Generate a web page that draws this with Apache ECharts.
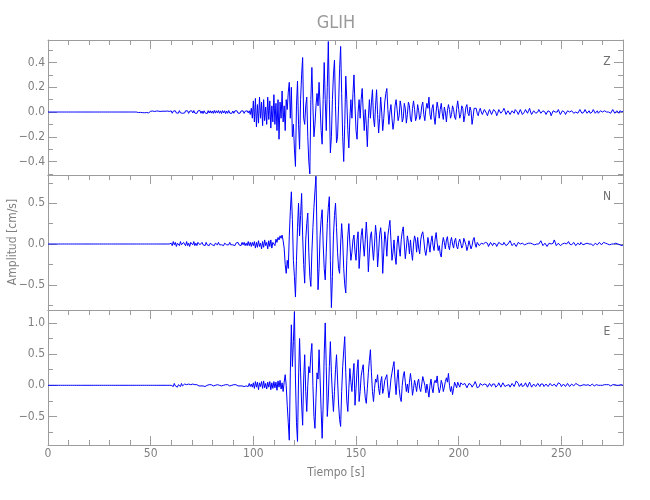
<!DOCTYPE html>
<html><head><meta charset="utf-8">
<script src="https://cdn.jsdelivr.net/npm/echarts@6/dist/echarts.min.js"></script>
<style>html,body{margin:0;padding:0;background:#fff}#c{width:650px;height:500px}</style>
</head><body><div id="c"></div>
<script>
const stationName = 'GLIH';
const componentNames = ['Z', 'N', 'E'];
const xTitle = 'Tiempo [s]';
const yTitle = 'Amplitud [cm/s]';
const timeStart = 0, timeStep = 0.5, xMax = 280;

// one line = 10 s (20 samples)
const zValues = [
0,0,0,0,0,0,0,0,0,0,0,0,0,0,0,0,0,0,0,0,
0,0,0,0,0,0,0,0,0,0,0,0,0,0,0,0,0,0,0,0,
0,0,0,0,0,0,0,0,0,0,0,0,0,0,0,0,0,0,0,0,
0,0,0,0,0,0,0,0,0,0,0,0,0,0,0,0,0,0,0,0,
0,0,0,0,0,0,0,0.003,-0.004,0.005,-0.003,0.006,-0.005,0.004,-0.006,0.007,-0.004,0.005,-0.007,0.004,
0.006,-0.005,0.008,-0.006,0.004,-0.007,0.009,-0.005,0.006,-0.008,0.005,-0.004,0.007,-0.009,0.006,-0.005,0.008,-0.006,0.005,-0.007,
0.009,-0.01,0.007,-0.006,0.01,-0.008,0.006,-0.009,0.011,-0.007,0.008,-0.01,0.006,-0.008,0.01,-0.006,0.009,-0.011,0.007,-0.008,
0.01,-0.008,0.012,-0.009,0.007,-0.011,0.009,-0.007,0.012,-0.01,0.008,-0.012,0.01,-0.007,0.009,-0.013,0.011,-0.008,0.01,-0.009,
0.008,-0.011,0.013,-0.009,0.01,-0.007,0.012,-0.01,0.009,-0.012,0.011,-0.008,0.01,-0.013,0.008,-0.01,0.012,-0.009,0.007,-0.011,
0.008,-0.01,0.009,-0.007,0.01,-0.009,0.007,-0.01,0.008,-0.006,0.009,-0.011,0.006,-0.008,0.01,-0.007,0.01,-0.02,0.03,-0.05,
0.09,-0.08,0.11,-0.12,0.06,-0.09,0.12,-0.05,0.08,-0.11,0.10,-0.07,0.04,-0.10,0.12,-0.06,0.09,-0.13,0.05,-0.08,
0.14,-0.10,0.07,-0.15,0.10,-0.22,0.08,-0.05,0.17,-0.08,0.05,-0.15,0.10,0.02,0.16,0.24,-0.05,0.20,-0.20,-0.10,
-0.30,-0.44,0.05,0.25,-0.10,-0.30,0.10,0.30,0.44,-0.05,-0.10,0.05,0.12,-0.20,-0.40,-0.50,0.10,0.36,0.05,-0.20,
-0.10,0.05,0.15,0.05,0.24,0.05,-0.15,-0.26,0.10,0.40,0.10,-0.15,0.20,0.57,0.10,-0.33,-0.20,0.10,0.30,0.42,
0.05,-0.25,-0.20,0.05,0.35,0.53,0.15,-0.20,-0.40,-0.10,0.29,0.10,-0.15,-0.29,-0.05,0.10,-0.05,0.15,0.30,0.05,
-0.15,-0.22,0.00,0.10,-0.05,0.10,0.19,0.00,-0.15,0.02,-0.10,-0.28,-0.05,0.10,-0.05,0.08,0.18,-0.05,-0.12,0.05,
0.18,-0.02,-0.17,-0.05,0.12,0.00,-0.15,-0.05,0.08,0.15,0.19,0.02,-0.10,0.00,0.06,-0.05,-0.14,-0.08,0.05,0.10,
0.02,-0.07,-0.03,0.09,0.04,-0.08,-0.05,0.07,0.03,-0.09,-0.02,0.08,0.05,-0.06,-0.08,0.03,0.09,0.02,-0.07,-0.04,
0.06,0.01,-0.06,-0.03,0.05,0.08,-0.02,-0.07,0.02,0.07,0.03,0.12,-0.02,-0.06,0.03,0.06,-0.04,-0.10,0.00,0.08,
0.03,-0.05,0.02,0.07,-0.01,-0.06,0.04,0.00,-0.08,0.01,0.06,0.02,-0.05,-0.02,0.05,0.02,-0.04,-0.06,0.03,0.09,
0.02,-0.05,-0.02,0.05,0.03,-0.08,-0.03,0.04,0.06,-0.01,-0.03,0.04,0.01,-0.10,-0.04,0.03,0.02,0.03,-0.01,-0.03,
0.01,0.03,0.00,-0.02,-0.01,0.02,0.03,-0.01,-0.03,0.00,0.02,0.01,-0.02,-0.02,0.02,0.03,0.00,-0.03,-0.01,0.02,
0.02,-0.01,-0.02,0.01,0.03,0.01,-0.02,-0.01,0.01,0.00,-0.02,-0.01,0.01,0.00,-0.01,0.02,0.03,0.00,-0.02,0.00,
0.02,0.01,-0.02,-0.03,0.00,0.02,0.01,-0.01,0.01,0.03,0.00,-0.02,-0.01,0.01,0.02,-0.01,-0.02,0.00,0.02,0.01,
-0.01,-0.02,0.01,0.02,0.00,-0.02,-0.01,0.01,0.02,0.00,-0.03,-0.01,0.01,0.02,0.00,-0.01,0.00,0.02,0.01,-0.02,
-0.01,0.01,0.02,0.00,-0.02,-0.01,0.01,0.02,0.00,-0.01,0.01,0.02,-0.01,-0.02,0.00,0.01,-0.01,0.00,0.02,0.01,
-0.01,-0.02,0.00,0.02,0.01,-0.01,0.00,0.01,-0.01,-0.02,0.00,0.02,0.01,-0.01,0.00,0.01,-0.01,-0.01,0.01,0.02,
0.00,-0.01,0.01,0.02,0.00,-0.01,0.00,0.01,-0.01,0.00,0.02,0.01,-0.01,0.00,0.01,0.00,-0.01,0.01,0.02,0.00,
0.01];

const nValues = [
0,0,0,0,0,0,0,0,0,0,0,0,0,0,0,0,0,0,0,0,
0,0,0,0,0,0,0,0,0,0,0,0,0,0,0,0,0,0,0,0,
0,0,0,0,0,0,0,0,0,0,0,0,0,0,0,0,0,0,0,0,
0,0,0,0,0,0,0,0,0,0,0,0,0,0,0,0,0,0,0,0,
0,0,0,0,0,0,0,0,0,0,0,0,0,0,0,0,0,0,0,0,
0,0,0,0,0,0,0,0,0,0,0,0,0,0,0,0,0,0,0,0,
0.01,-0.02,0.03,-0.01,0.02,-0.03,0.01,0.02,-0.02,0.03,-0.01,-0.03,0.02,0.01,-0.02,0.03,-0.02,0.01,-0.03,0.02,
0.02,-0.01,0.03,-0.02,0.01,-0.02,0.02,0.03,-0.01,-0.02,0.02,-0.01,0.01,-0.02,0.02,-0.01,0.01,-0.02,0.01,0.02,
-0.01,0.01,-0.02,0.01,0.00,-0.01,0.02,-0.01,0.01,-0.01,0.01,-0.02,0.01,0.00,-0.01,0.01,-0.01,0.02,-0.01,0.01,
-0.01,0.01,-0.02,0.01,-0.01,0.02,-0.01,0.01,-0.02,0.02,-0.01,0.02,-0.02,0.01,-0.02,0.03,-0.02,0.02,-0.03,0.02,
-0.02,0.03,-0.05,0.02,-0.04,0.04,-0.03,0.01,-0.06,0.03,-0.04,0.05,-0.02,0.02,-0.06,0.04,-0.03,0.05,-0.05,0.02,
0.03,-0.02,0.06,0.02,0.08,0.05,0.10,0.07,0.11,0.04,-0.05,-0.25,-0.36,-0.20,-0.30,0.10,0.40,0.64,0.30,-0.20,
-0.40,-0.65,-0.20,0.20,0.50,0.10,0.35,0.62,0.10,-0.25,-0.48,0.05,0.25,0.38,-0.10,-0.40,-0.52,-0.10,0.20,0.45,
0.65,0.83,0.10,-0.56,-0.30,0.10,0.30,0.42,0.00,-0.30,-0.44,-0.10,0.25,0.45,0.58,-0.20,-0.78,-0.40,0.10,0.35,
0.50,0.20,-0.10,-0.30,-0.36,0.00,0.25,0.05,-0.30,-0.50,-0.60,-0.20,0.10,0.25,0.00,-0.20,-0.10,0.05,0.11,-0.10,
-0.20,0.05,0.15,-0.30,-0.10,0.10,0.19,0.00,-0.15,0.05,0.27,0.05,-0.34,-0.10,0.10,0.15,-0.05,-0.20,0.00,0.23,
0.10,-0.28,-0.10,0.12,0.20,0.05,-0.36,-0.10,0.15,0.05,-0.15,0.10,0.20,0.29,0.05,-0.20,-0.10,0.05,-0.15,-0.25,
0.00,0.10,-0.05,-0.15,0.05,0.15,0.21,0.00,-0.18,-0.05,0.10,0.02,-0.12,0.05,-0.10,-0.20,0.00,0.10,0.05,-0.10,
0.08,-0.05,-0.12,0.05,0.12,0.15,0.05,-0.08,-0.14,-0.05,0.08,0.00,-0.10,0.03,0.10,-0.02,-0.08,0.06,0.14,0.02,
-0.08,-0.02,-0.12,-0.16,0.00,0.08,0.02,-0.06,0.05,0.09,-0.02,-0.07,0.03,0.08,0.00,-0.05,0.04,0.07,-0.03,-0.06,
0.02,0.06,0.01,-0.05,-0.02,0.07,0.09,-0.01,-0.08,-0.03,0.04,0.02,-0.06,-0.02,0.05,0.08,0.00,-0.04,0.02,0.03,
-0.02,-0.04,0.01,0.03,0.00,-0.02,0.02,0.04,0.01,-0.03,-0.01,0.02,0.00,-0.02,0.01,0.03,0.00,-0.03,-0.01,0.02,
0.03,0.00,-0.02,-0.01,0.02,0.01,-0.02,-0.03,0.00,0.02,0.04,0.01,-0.02,0.00,0.01,-0.01,-0.03,-0.01,0.02,0.03,
0.00,-0.02,0.01,0.02,-0.01,-0.03,0.00,0.02,0.01,-0.01,0.01,0.03,0.00,-0.02,-0.01,0.01,0.00,-0.02,0.00,0.02,
0.04,0.01,-0.02,-0.01,0.01,0.00,-0.03,-0.02,0.01,0.02,0.00,-0.01,0.01,0.05,0.02,-0.02,-0.01,0.01,0.00,-0.02,
-0.03,0.00,0.02,0.01,-0.01,0.00,0.02,0.03,0.00,-0.02,-0.01,0.01,0.02,0.00,-0.02,-0.01,0.01,0.00,-0.01,0.02,
0.01,-0.01,-0.02,0.00,0.02,0.01,-0.01,0.00,0.02,0.00,-0.01,-0.02,0.00,0.01,0.00,-0.01,0.01,0.02,0.00,-0.01,
0.00,0.02,0.03,0.01,-0.01,0.00,0.01,-0.01,-0.02,0.00,0.01,0.00,-0.01,0.01,0.02,0.00,-0.02,-0.01,-0.03,-0.02,
-0.01];

const eValues = [
0,0,0,0,0,0,0,0,0,0,0,0,0,0,0,0,0,0,0,0,
0,0,0,0,0,0,0,0,0,0,0,0,0,0,0,0,0,0,0,0,
0,0,0,0,0,0,0,0,0,0,0,0,0,0,0,0,0,0,0,0,
0,0,0,0,0,0,0,0,0,0,0,0,0,0,0,0,0,0,0,0,
0,0,0,0,0,0,0,0,0,0,0,0,0,0,0,0,0,0,0,0,
0,0,0,0,0,0,0,0,0,0,0,0,0,0,0,0,0,0,0,0,
0.00,0.01,-0.02,0.03,-0.01,0.02,-0.03,0.01,0.02,-0.02,0.03,-0.01,-0.02,0.02,-0.01,0.01,-0.02,0.02,-0.01,0.01,
-0.01,0.02,-0.01,0.01,-0.02,0.01,0.00,-0.01,0.02,-0.01,0.01,-0.01,0.01,-0.02,0.01,0.00,-0.01,0.01,-0.01,0.01,
0.00,-0.01,0.01,0.00,-0.01,0.01,-0.01,0.00,0.01,-0.01,0.01,0.00,-0.01,0.01,-0.01,0.01,0.00,-0.01,0.01,0.00,
-0.01,0.01,-0.01,0.01,0.00,-0.01,0.01,-0.01,0.02,-0.01,0.01,-0.02,0.01,-0.01,0.02,-0.02,0.03,-0.02,0.02,-0.03,
0.04,-0.05,0.06,-0.03,0.05,-0.07,0.04,-0.02,0.06,-0.05,0.07,-0.04,0.03,-0.06,0.05,-0.03,0.06,-0.07,0.04,-0.05,
0.06,-0.04,0.05,-0.08,0.07,-0.03,0.08,-0.06,0.04,-0.10,0.05,0.17,0.00,-0.32,-0.60,-0.88,0.20,0.97,0.30,0.70,
1.18,0.10,-0.60,-0.90,0.10,0.75,0.20,-0.30,-0.64,0.10,0.49,-0.10,-0.42,0.00,0.30,0.20,0.50,0.67,0.00,-0.50,
-0.69,-0.20,0.20,0.10,0.57,0.10,-0.40,-0.85,-0.30,0.50,1.00,0.30,-0.50,-0.20,0.30,0.70,0.20,-0.15,-0.42,-0.10,
0.25,0.49,0.10,-0.30,-0.55,-0.66,-0.10,0.30,0.55,0.78,0.20,-0.25,-0.42,-0.05,0.27,0.05,-0.10,0.15,0.35,-0.32,
-0.05,0.25,0.41,-0.26,-0.10,0.15,0.25,0.33,0.00,-0.20,-0.29,-0.05,0.20,0.40,0.57,0.20,-0.10,-0.26,-0.05,0.10,
0.05,0.17,-0.05,-0.15,0.05,0.14,-0.13,-0.05,0.08,0.05,0.17,-0.05,-0.20,-0.08,0.10,0.20,0.30,0.38,0.05,-0.15,
0.10,0.25,-0.05,-0.20,-0.26,0.00,0.15,0.22,0.05,-0.10,0.02,-0.12,0.05,0.19,0.05,-0.16,-0.05,0.08,0.00,-0.10,
0.05,0.10,-0.05,-0.10,0.02,0.14,0.17,0.00,-0.12,0.02,-0.08,-0.19,0.00,0.10,-0.05,-0.12,0.03,0.08,0.04,0.15,
-0.02,-0.12,-0.05,0.08,0.02,-0.10,-0.03,0.06,0.12,0.05,0.19,0.00,-0.10,-0.02,-0.15,-0.05,0.05,0.02,-0.04,0.05,
0.03,-0.03,0.04,0.06,0.01,-0.02,0.03,0.00,-0.04,-0.02,0.03,0.05,0.01,-0.03,-0.01,0.02,0.06,0.02,-0.04,-0.06,
-0.02,0.03,0.05,0.00,-0.02,0.02,0.04,0.01,-0.03,0.00,0.03,0.01,-0.02,0.02,0.05,0.02,-0.03,-0.05,0.00,0.04,
0.02,-0.03,0.00,0.04,0.02,-0.02,-0.04,0.00,0.03,0.01,-0.03,0.00,0.03,0.01,-0.02,0.02,0.07,0.10,0.03,-0.02,
0.00,0.03,-0.02,-0.05,0.00,0.04,0.02,-0.03,0.00,0.05,0.01,-0.03,-0.01,0.02,0.00,-0.02,0.01,0.03,0.00,-0.02,
0.02,0.05,0.02,-0.02,-0.01,0.02,0.00,-0.02,0.01,0.03,0.01,-0.01,0.00,0.02,-0.01,-0.02,0.01,0.04,0.06,0.02,
-0.02,0.00,0.02,-0.01,-0.02,0.01,0.03,0.00,-0.02,0.00,0.02,0.01,-0.01,0.01,0.03,0.04,0.01,-0.02,-0.01,0.01,
0.00,-0.02,0.01,0.02,0.00,-0.01,0.01,0.00,-0.01,0.01,0.02,0.01,-0.01,0.00,0.01,0.02,0.00,-0.01,0.00,0.01,
0.00,-0.01,0.01,0.00,0.01,0.02,0.01,0.00,-0.01,0.00,0.01,0.00,0.01,0.02,0.00,0.01,0.00,-0.01,0.01,0.02,
0.00];

const yRanges = [[-0.509, 0.582], [-0.809, 0.846], [-0.957, 1.207]];
const xMajorTicks = [0, 50, 100, 150, 200, 250];
const xMinorTicks = [10,20,30,40,60,70,80,90,110,120,130,140,160,170,180,190,210,220,230,240,260,270];
const yMajorTicks = [[-0.4,-0.2,0,0.2,0.4], [-0.5,0,0.5], [-0.5,0,0.5,1.0]];
const yMinorTicks = [[-0.5,-0.3,-0.1,0.1,0.3,0.5], [-0.75,-0.25,0.25,0.75], [-0.75,-0.25,0.25,0.75]];

const FONT = "'Liberation Sans Narrow','DejaVu Sans Condensed','Roboto Condensed','Liberation Sans',sans-serif";
const AXIS_COLOR = '#9c9c9c', TEXT_COLOR = '#808080', LINE_COLOR = '#0000ff';
const gridTops = [40, 175, 310], gridH = 135, gridLeft = 48, gridRight = 27;
const traces = [zValues, nValues, eValues];

const fmtY = v => (Math.abs(v) < 1e-9 ? '0.0' : v.toFixed(1).replace('-', '\u2212'));

function axis(dim, g, position, o) {
  const a = {
    type: 'value', gridIndex: g, position: position,
    min: dim === 'x' ? 0 : yRanges[g][0], max: dim === 'x' ? xMax : yRanges[g][1],
    splitLine: { show: false }, minorTick: { show: false }, minorSplitLine: { show: false },
    axisPointer: { show: false }, silent: true,
    axisLine: { show: !!o.line, onZero: false, lineStyle: { color: AXIS_COLOR, width: 1 } },
    axisTick: { show: !!o.ticks, inside: true, length: o.len || 9, customValues: o.ticks || [],
                lineStyle: { color: AXIS_COLOR, width: 1 } },
    axisLabel: { show: !!o.labels }
  };
  if (o.labels) {
    a.axisLabel = { show: true, customValues: o.labels, color: TEXT_COLOR, fontFamily: FONT,
      fontSize: 12, margin: 3, showMinLabel: true, showMaxLabel: true,
      formatter: dim === 'x' ? (v => String(v)) : fmtY };
  }
  return a;
}

const grids = [], xAxes = [], yAxes = [], seriesList = [], graphics = [];
for (let g = 0; g < 3; g++) {
  grids.push({ left: gridLeft, right: gridRight, top: gridTops[g], height: gridH, containLabel: false, outerBoundsMode: 'none' });
  const last = g === 2;
  const xi = xAxes.length, yi = yAxes.length;
  xAxes.push(axis('x', g, 'bottom', { line: true, ticks: last ? xMajorTicks : null, labels: last ? xMajorTicks : null, len: 9 }));
  xAxes.push(axis('x', g, 'bottom', { ticks: last ? xMinorTicks : null, len: 5 }));
  xAxes.push(axis('x', g, 'top', { line: true, ticks: xMajorTicks, len: 9 }));
  xAxes.push(axis('x', g, 'top', { ticks: xMinorTicks, len: 5 }));
  yAxes.push(axis('y', g, 'left', { line: true, ticks: yMajorTicks[g], labels: yMajorTicks[g], len: 9 }));
  yAxes.push(axis('y', g, 'left', { ticks: yMinorTicks[g], len: 5 }));
  yAxes.push(axis('y', g, 'right', { line: true, ticks: yMajorTicks[g], len: 9 }));
  yAxes.push(axis('y', g, 'right', { ticks: yMinorTicks[g], len: 5 }));
  seriesList.push({
    type: 'line', xAxisIndex: xi, yAxisIndex: yi,
    data: traces[g].map((v, i) => [timeStart + i * timeStep, v]),
    showSymbol: false, symbol: 'none', smooth: false, clip: true,
    lineStyle: { color: LINE_COLOR, width: 1 }, itemStyle: { color: LINE_COLOR },
    animation: false, silent: true
  });
  graphics.push({ type: 'text', x: 607, y: gridTops[g] + 22, silent: true,
    style: { text: componentNames[g], fill: '#707070', fontFamily: FONT, fontSize: 12, align: 'center', verticalAlign: 'middle' } });
}
graphics.push({ type: 'text', x: 336, y: 23, silent: true,
  style: { text: stationName, fill: '#9a9a9a', fontFamily: FONT, fontSize: 18, align: 'center', verticalAlign: 'middle' } });
graphics.push({ type: 'text', x: 336, y: 473, silent: true,
  style: { text: xTitle, fill: TEXT_COLOR, fontFamily: FONT, fontSize: 12, align: 'center', verticalAlign: 'middle' } });
graphics.push({ type: 'text', x: 13, y: 242, rotation: Math.PI / 2, silent: true,
  style: { text: yTitle, fill: TEXT_COLOR, fontFamily: FONT, fontSize: 12, align: 'center', verticalAlign: 'middle' } });

const chart = echarts.init(document.getElementById('c'), null, { renderer: 'canvas' });
chart.setOption({
  backgroundColor: '#ffffff',
  animation: false,
  grid: grids, xAxis: xAxes, yAxis: yAxes, series: seriesList,
  graphic: graphics,
  tooltip: { show: false }
});
</script>
</body></html>
